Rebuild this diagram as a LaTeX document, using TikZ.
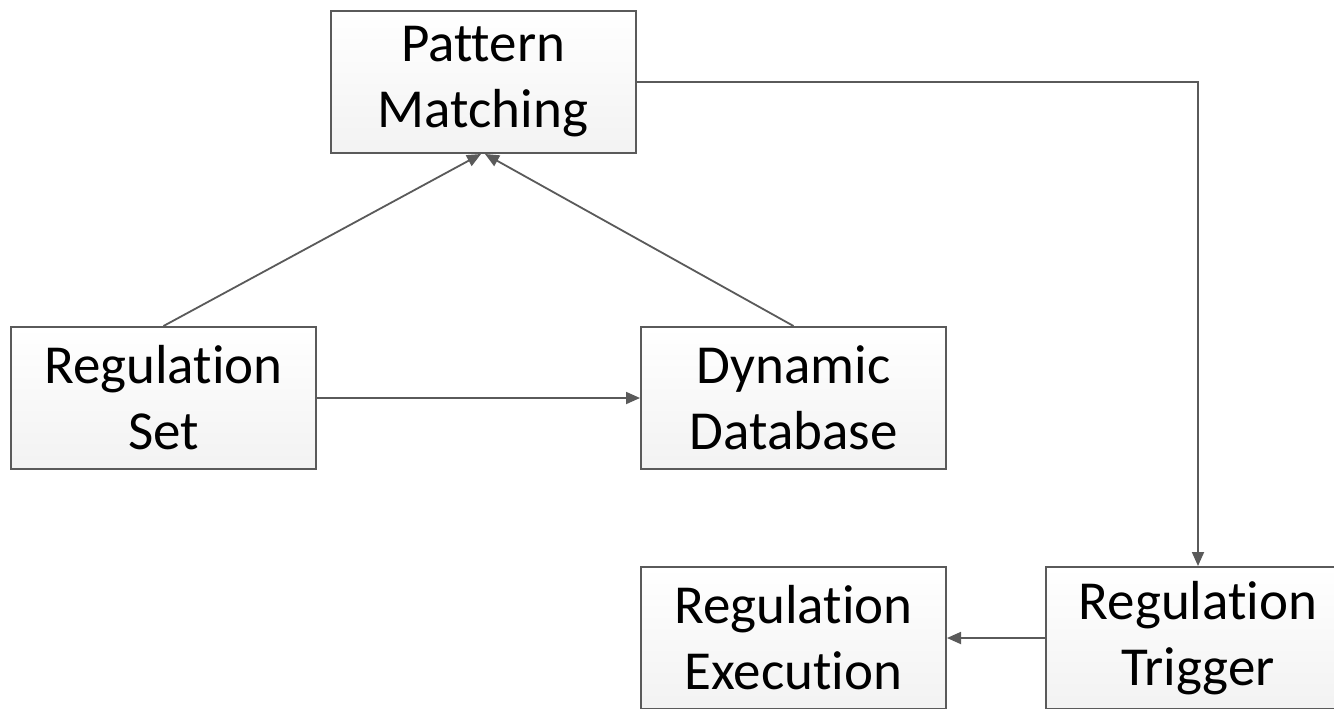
\documentclass[tikz,border=0pt]{standalone}
\usepackage{fontspec}
\setmainfont[Ligatures=NoCommon]{Carlito}
\usetikzlibrary{arrows.meta,shadings}

\definecolor{edge}{HTML}{5A5A5A}
\tikzset{
  block/.style={draw=edge,line width=1pt,top color=white,bottom color=black!5,
    minimum width=152.5pt,minimum height=71pt,align=center,
    font=\fontsize{27.5}{33}\selectfont},
  link/.style={draw=edge,line width=0.9pt,-{Triangle[length=7pt,width=6pt]}}
}

\begin{document}
\begin{tikzpicture}[x=0.5pt,y=-0.5pt]
\useasboundingbox[fill=white] (0,0) rectangle (1334,708);
% boxes
\node[block] (match) at (483,82) {Pattern\\Matching};
\node[block] (rset) at (163.5,398) {Regulation\\Set};
\node[block] (dyndb) at (793.5,398) {Dynamic\\Database};
\node[block] (exec) at (793.5,638) {Regulation\\Execution};
\node[block] (trig) at (1198,638) {Regulation\\Trigger};
% connectors
\draw[link] (rset.north) -- ([xshift=-1pt]match.south);
\draw[link] (dyndb.north) -- ([xshift=1pt]match.south);
\draw[link] (rset.east) -- (dyndb.west);
\draw[link] (match.east) -| (trig.north);
\draw[link] (trig.west) -- (exec.east);
\end{tikzpicture}
\end{document}
